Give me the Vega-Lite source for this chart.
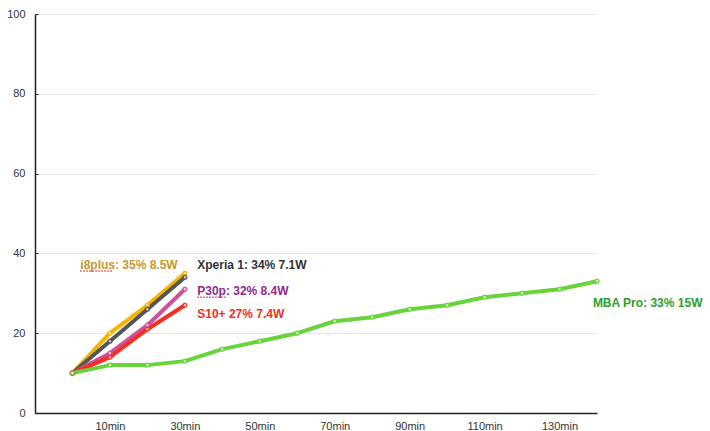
{
  "$schema": "https://vega.github.io/schema/vega-lite/v6.json",
  "width": 562,
  "height": 399,
  "autosize": {"type": "none"},
  "padding": {"left": 35, "top": 14, "right": 113, "bottom": 18},
  "background": "white",
  "config": {
    "font": "Liberation Sans",
    "view": {"stroke": null}
  },
  "datasets": {
    "charge": [
      {"device": "i8plus", "t": 0, "pct": 10},
      {"device": "i8plus", "t": 10, "pct": 20},
      {"device": "i8plus", "t": 20, "pct": 27},
      {"device": "i8plus", "t": 30, "pct": 35},
      {"device": "Xperia 1", "t": 0, "pct": 10},
      {"device": "Xperia 1", "t": 10, "pct": 18},
      {"device": "Xperia 1", "t": 20, "pct": 26},
      {"device": "Xperia 1", "t": 30, "pct": 34},
      {"device": "P30p", "t": 0, "pct": 10},
      {"device": "P30p", "t": 10, "pct": 15},
      {"device": "P30p", "t": 20, "pct": 22},
      {"device": "P30p", "t": 30, "pct": 31},
      {"device": "S10+", "t": 0, "pct": 10},
      {"device": "S10+", "t": 10, "pct": 14},
      {"device": "S10+", "t": 20, "pct": 21},
      {"device": "S10+", "t": 30, "pct": 27},
      {"device": "MBA Pro", "t": 0, "pct": 10},
      {"device": "MBA Pro", "t": 10, "pct": 12},
      {"device": "MBA Pro", "t": 20, "pct": 12},
      {"device": "MBA Pro", "t": 30, "pct": 13},
      {"device": "MBA Pro", "t": 40, "pct": 16},
      {"device": "MBA Pro", "t": 50, "pct": 18},
      {"device": "MBA Pro", "t": 60, "pct": 20},
      {"device": "MBA Pro", "t": 70, "pct": 23},
      {"device": "MBA Pro", "t": 80, "pct": 24},
      {"device": "MBA Pro", "t": 90, "pct": 26},
      {"device": "MBA Pro", "t": 100, "pct": 27},
      {"device": "MBA Pro", "t": 110, "pct": 29},
      {"device": "MBA Pro", "t": 120, "pct": 30},
      {"device": "MBA Pro", "t": 130, "pct": 31},
      {"device": "MBA Pro", "t": 140, "pct": 33}
    ],
    "labels": [
      {"device": "i8plus", "text": "i8plus: 35% 8.5W", "t": 2.1, "pct": 37.1},
      {"device": "Xperia 1", "text": "Xperia 1: 34% 7.1W", "t": 33.3, "pct": 37.1},
      {"device": "P30p", "text": "P30p: 32% 8.4W", "t": 33.3, "pct": 30.6},
      {"device": "S10+", "text": "S10+ 27% 7.4W", "t": 33.3, "pct": 24.8},
      {"device": "MBA Pro", "text": "MBA Pro: 33% 15W", "t": 138.9, "pct": 27.6}
    ],
    "underlines": [
      {"word": "i8plus", "t": 2.1, "t2": 10.7, "pct": 35.6},
      {"word": "P30p", "t": 33.3, "t2": 41.3, "pct": 29.0}
    ]
  },
  "layer": [
    {
      "data": {"name": "charge"},
      "mark": {"type": "line", "strokeWidth": 4, "strokeCap": "round", "strokeJoin": "round"},
      "encoding": {
        "x": {
          "field": "t",
          "type": "quantitative",
          "scale": {"domain": [-10, 140], "nice": false, "zero": false},
          "axis": {
            "title": null,
            "values": [10, 30, 50, 70, 90, 110, 130],
            "labelExpr": "datum.value + 'min'",
            "grid": false,
            "ticks": false,
            "domainColor": "#222222",
            "domainWidth": 1.5,
            "labelFontSize": 11,
            "labelColor": "#333333",
            "labelPadding": 7
          }
        },
        "y": {
          "field": "pct",
          "type": "quantitative",
          "scale": {"domain": [0, 100], "nice": false},
          "axis": {
            "title": null,
            "values": [0, 20, 40, 60, 80, 100],
            "gridColor": "#e6e6e6",
            "domainColor": "#222222",
            "domainWidth": 1.5,
            "tickColor": "#222222",
            "tickSize": -3,
            "labelFontSize": 11,
            "labelColor": "#333333",
            "labelPadding": 13
          }
        },
        "color": {
          "field": "device",
          "type": "nominal",
          "scale": {
            "domain": ["MBA Pro", "Xperia 1", "i8plus", "P30p", "S10+"],
            "range": ["#66d43a", "#555555", "#f4b400", "#d0509a", "#f2301f"]
          },
          "legend": null
        },
        "order": {"field": "t"}
      }
    },
    {
      "data": {"name": "charge"},
      "mark": {"type": "point", "filled": true, "fill": "white", "size": 16, "strokeWidth": 1.5},
      "encoding": {
        "x": {"field": "t", "type": "quantitative"},
        "y": {"field": "pct", "type": "quantitative"},
        "stroke": {
          "field": "device",
          "type": "nominal",
          "scale": {
            "domain": ["MBA Pro", "Xperia 1", "i8plus", "P30p", "S10+"],
            "range": ["#66d43a", "#555555", "#f4b400", "#d0509a", "#f2301f"]
          },
          "legend": null
        }
      }
    },
    {
      "data": {"name": "labels"},
      "mark": {"type": "text", "align": "left", "baseline": "middle", "fontSize": 12, "fontWeight": "bold"},
      "encoding": {
        "x": {"field": "t", "type": "quantitative"},
        "y": {"field": "pct", "type": "quantitative"},
        "text": {"field": "text"},
        "fill": {
          "field": "device",
          "type": "nominal",
          "scale": {
            "domain": ["MBA Pro", "Xperia 1", "i8plus", "P30p", "S10+"],
            "range": ["#2e9e2e", "#333333", "#c4972e", "#8e2b8e", "#e8321e"]
          },
          "legend": null
        }
      }
    },
    {
      "data": {"name": "underlines"},
      "mark": {"type": "rule", "color": "#e04040", "strokeWidth": 1.5, "strokeDash": [1.5, 1.5]},
      "encoding": {
        "x": {"field": "t", "type": "quantitative"},
        "x2": {"field": "t2"},
        "y": {"field": "pct", "type": "quantitative"}
      }
    }
  ],
  "resolve": {"scale": {"color": "independent"}}
}
